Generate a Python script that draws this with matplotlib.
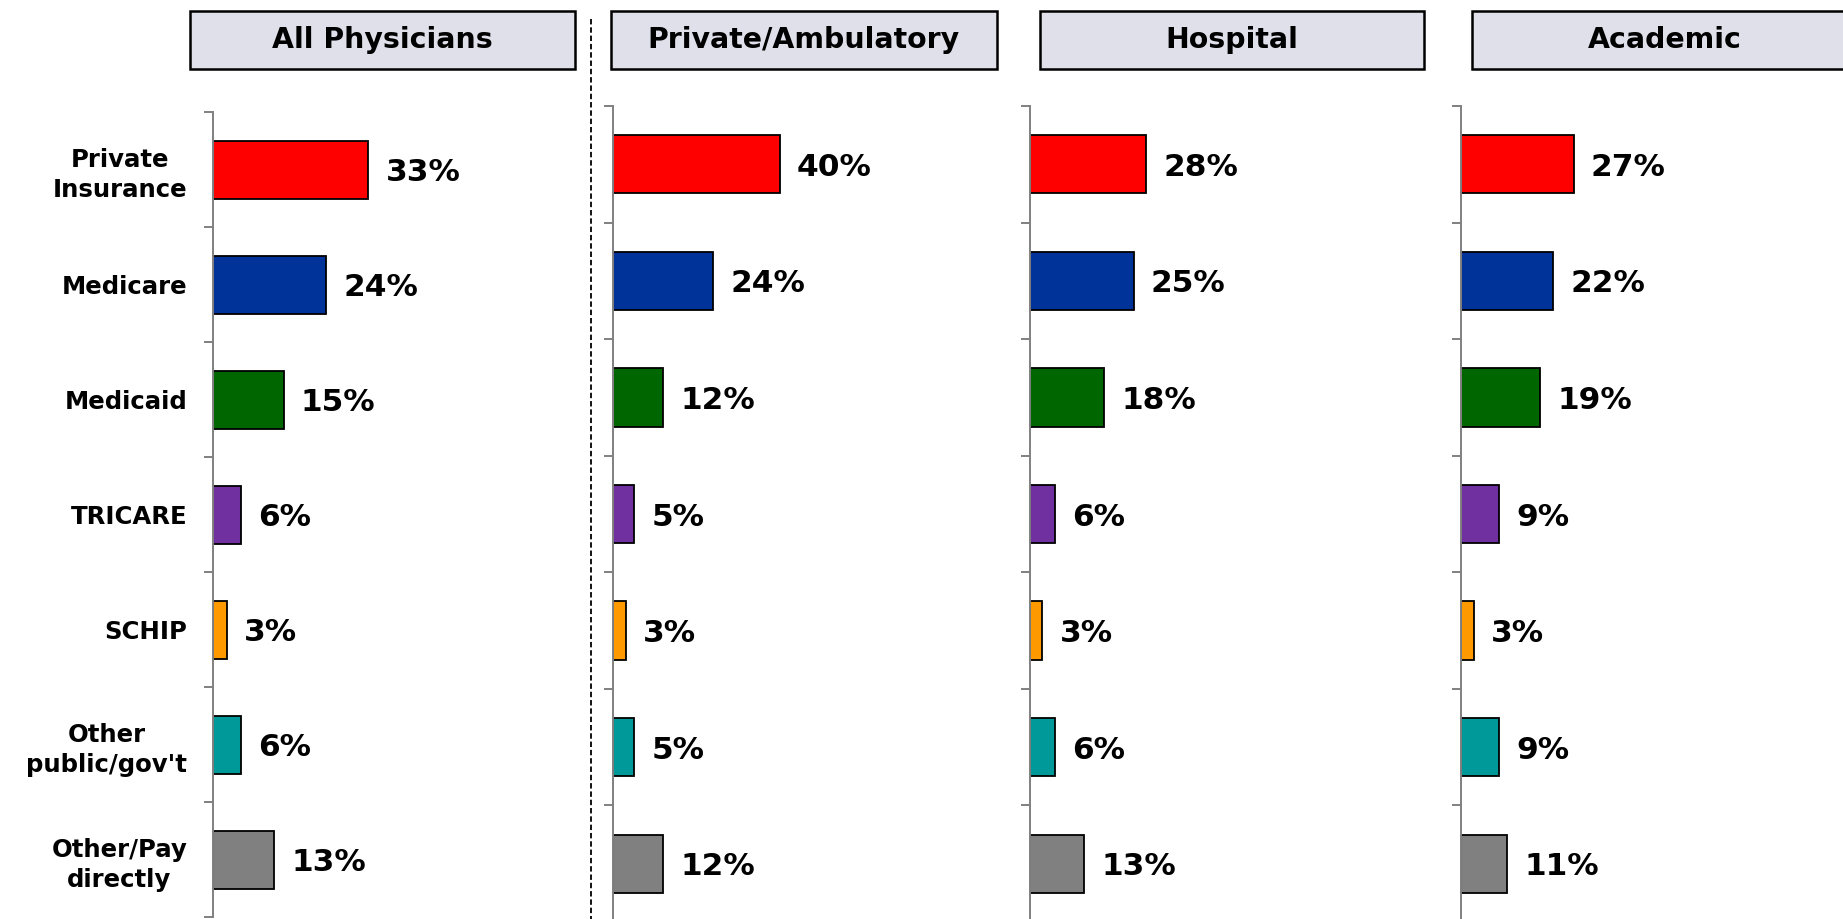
import numpy as np
import matplotlib
matplotlib.use("Agg")
import matplotlib.pyplot as plt
from matplotlib.patches import Rectangle
from matplotlib.lines import Line2D

# ── data ────────────────────────────────────────────────────────────────────
categories = ["Private\nInsurance", "Medicare", "Medicaid", "TRICARE", "SCHIP",
              "Other\npublic/gov't", "Other/Pay\ndirectly"]
panel_titles = ["All Physicians", "Private/Ambulatory", "Hospital", "Academic"]

all_physicians = [33, 24, 15, 6, 3, 6, 13]
private_ambulatory = [40, 24, 12, 5, 3, 5, 12]
hospital = [28, 25, 18, 6, 3, 6, 13]
academic = [27, 22, 19, 9, 3, 9, 11]
panel_values = [all_physicians, private_ambulatory, hospital, academic]

bar_colors = ["#FF0000", "#003399", "#006600", "#7030A0", "#FF9900", "#009999", "#808080"]

# ── layout (pixels on a 1843 x 919 canvas) ──────────────────────────────────
W, H = 1843, 919
fig = plt.figure(figsize=(W / 100, H / 100), dpi=100)
plt.rcParams["font.family"] = "DejaVu Sans"

# (spine x, right x, top y, bottom y)
axes_px = [(212.7, 560, 112.3, 917.3),
           (613.3, 1000, 106, 922),
           (1029.6, 1420, 106, 922),
           (1461.3, 1843, 106, 922)]
px_per_pct = [4.72, 4.16, 4.16, 4.16]
header_px = [(190, 575), (610.7, 997), (1040, 1424.3), (1471.7, 1857)]
header_y = (11, 69)

GRAY = "#808080"

for k, (vals, (x0, x1, yt, yb)) in enumerate(zip(panel_values, axes_px)):
    ax = fig.add_axes([x0 / W, (H - yb) / H, (x1 - x0) / W, (yb - yt) / H])
    y = np.arange(len(categories))
    ax.barh(y, vals, height=0.5, color=bar_colors, edgecolor="black", linewidth=1.3)
    ax.set_ylim(len(categories) - 0.5, -0.5)
    ax.set_xlim(0, (x1 - x0) / px_per_pct[k])

    for i, v in enumerate(vals):
        ax.annotate(f"{v}%", xy=(v, i), xytext=(12.5, 0), textcoords="offset points",
                    ha="left", va="center_baseline", fontsize=22.5, fontweight="bold")

    for side in ["top", "right", "bottom"]:
        ax.spines[side].set_visible(False)
    ax.spines["left"].set_color(GRAY)
    ax.spines["left"].set_linewidth(1.4)
    ax.set_xticks([])
    ax.set_yticks(np.arange(-0.5, len(categories)))
    ax.set_yticklabels([])
    ax.tick_params(axis="y", which="major", length=6.5, width=1.4, color=GRAY, direction="out")
    if k == 0:
        ax.set_yticks(y, minor=True)
        ax.set_yticklabels(categories, minor=True, fontsize=17.6, fontweight="bold",
                           multialignment="center", linespacing=1.32)
        ax.tick_params(axis="y", which="minor", length=0, pad=18.5)
    else:
        ax.set_yticks([], minor=True)

# header boxes
for title, (hx0, hx1) in zip(panel_titles, header_px):
    fig.patches.append(Rectangle((hx0 / W, (H - header_y[1]) / H), (hx1 - hx0) / W,
                                 (header_y[1] - header_y[0]) / H, transform=fig.transFigure,
                                 facecolor="#E0E0EB", edgecolor="black", linewidth=1.8))
    fig.text((hx0 + hx1) / 2 / W, (H - sum(header_y) / 2) / H, title,
             ha="center", va="center", fontsize=20.4, fontweight="bold")

# dashed separator
fig.lines.append(Line2D([590.7 / W, 590.7 / W], [(H - 19) / H, 0], transform=fig.transFigure,
                        color="black", linewidth=1.3, linestyle=(0, (3, 1.6))))

fig.savefig("out.png", dpi=100)
